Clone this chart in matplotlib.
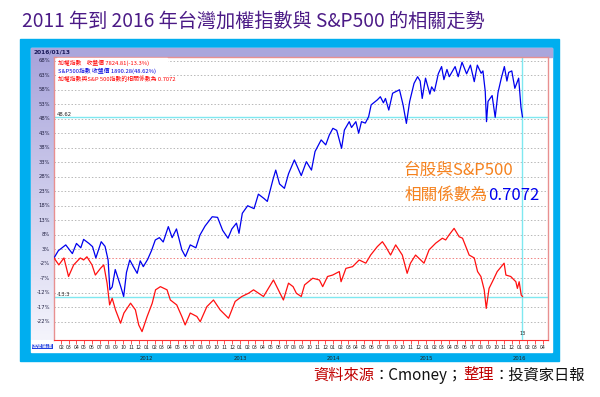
import numpy as np
import pandas as pd
import matplotlib
matplotlib.use("Agg")
import matplotlib.pyplot as plt
import matplotlib.dates as mdates
from matplotlib.patches import Rectangle

plt.rcParams['font.family'] = ['Noto Sans CJK TC', 'DejaVu Sans']

# S&P500, % change since 2011-01-03
sp_dates = ["2011-01-03", "2011-01-20", "2011-02-18", "2011-03-16", "2011-04-01", "2011-04-18",
            "2011-04-29", "2011-05-20", "2011-06-03", "2011-06-16", "2011-07-07", "2011-07-22",
            "2011-08-03", "2011-08-10", "2011-08-19", "2011-08-31", "2011-09-22", "2011-10-03",
            "2011-10-14", "2011-10-27", "2011-11-10", "2011-11-25", "2011-12-07", "2011-12-19",
            "2012-01-05", "2012-01-20", "2012-02-04", "2012-02-20", "2012-03-06", "2012-03-26",
            "2012-04-10", "2012-04-27", "2012-05-18", "2012-06-01", "2012-06-20", "2012-07-12",
            "2012-07-28", "2012-08-17", "2012-09-14", "2012-10-05", "2012-10-25", "2012-11-15",
            "2012-11-30", "2012-12-18", "2012-12-28", "2013-01-10", "2013-01-31", "2013-02-25",
            "2013-03-14", "2013-04-05", "2013-04-18", "2013-05-10", "2013-05-21", "2013-06-05",
            "2013-06-24", "2013-07-10", "2013-08-02", "2013-08-29", "2013-09-18", "2013-10-08",
            "2013-10-22", "2013-11-15", "2013-12-03", "2013-12-17", "2013-12-31", "2014-01-15",
            "2014-02-03", "2014-02-14", "2014-03-05", "2014-03-14", "2014-03-31", "2014-04-11",
            "2014-04-22", "2014-05-07", "2014-05-20", "2014-05-30", "2014-06-23", "2014-07-05",
            "2014-07-17", "2014-07-25", "2014-08-07", "2014-08-22", "2014-09-18", "2014-10-02",
            "2014-10-15", "2014-10-28", "2014-11-14", "2014-11-28", "2014-12-08", "2014-12-16",
            "2014-12-29", "2015-01-15", "2015-01-22", "2015-02-02", "2015-02-17", "2015-03-02",
            "2015-03-11", "2015-03-23", "2015-04-01", "2015-04-24", "2015-05-06", "2015-05-21",
            "2015-06-08", "2015-06-23", "2015-07-08", "2015-07-20", "2015-08-04", "2015-08-11",
            "2015-08-20", "2015-08-25", "2015-08-31", "2015-09-16", "2015-09-28", "2015-10-09",
            "2015-10-22", "2015-11-03", "2015-11-13", "2015-11-20", "2015-12-02", "2015-12-14",
            "2015-12-29", "2016-01-07", "2016-01-13"]
sp_pct = [0, 2.5, 4.5, 1.5, 5.0, 3.5,
          6.4, 5.0, 3.9, 0, 5.6, 4.0,
          -0.7, -11, -10, -4, -10, -13.3,
          -5, -0.7, -3, -5.3, -1, -3,
          -0.5, 2.5, 6.2, 7.0, 5.5, 10.8,
          7.0, 10.0, 2.8, 0.5, 4.5, 3.5,
          7.9, 11, 14.2, 14, 9.5, 6.8,
          10, 12, 8.5, 15.4, 18, 17,
          22, 20.5, 19.5, 27, 30.3, 25.5,
          24, 29, 33.8, 28.4, 33.2, 30.3,
          36.7, 40.7, 39, 42.4, 44.7, 44,
          37.8, 44.1, 47, 45, 47, 43,
          47, 46.5, 48.7, 52.8, 54.5, 55.6,
          53.5, 55, 51, 56.8, 58, 52.8,
          46.4, 54, 60.2, 62.5, 61, 55,
          62, 56.5, 59, 57.5, 63.5, 66,
          61.5, 65, 62.5, 66, 62.5, 67.5,
          63.5, 66.5, 60.8, 66.5, 63.7, 64.5,
          57.5, 47, 54, 56, 48.5, 57,
          62, 66, 61, 64, 64.5, 58.5,
          62, 52, 48.62]

# TAIEX, % change since 2011-01-03
tw_dates = ["2011-01-03", "2011-01-22", "2011-02-11", "2011-03-01", "2011-03-21", "2011-04-16",
            "2011-04-29", "2011-05-12", "2011-06-01", "2011-06-14", "2011-07-04", "2011-07-17",
            "2011-07-30", "2011-08-09", "2011-08-19", "2011-09-01", "2011-09-21", "2011-10-04",
            "2011-10-30", "2011-11-18", "2011-12-01", "2011-12-14", "2012-01-03", "2012-01-23",
            "2012-02-05", "2012-02-24", "2012-03-21", "2012-04-03", "2012-04-28", "2012-05-18",
            "2012-05-31", "2012-06-20", "2012-07-16", "2012-07-29", "2012-08-24", "2012-09-19",
            "2012-10-15", "2012-11-17", "2012-12-13", "2013-01-08", "2013-02-03", "2013-02-23",
            "2013-04-03", "2013-05-12", "2013-06-20", "2013-07-10", "2013-07-28", "2013-08-10",
            "2013-08-29", "2013-09-11", "2013-10-13", "2013-11-08", "2013-11-21", "2013-12-10",
            "2013-12-30", "2014-01-25", "2014-02-01", "2014-02-20", "2014-03-18", "2014-04-13",
            "2014-05-09", "2014-05-28", "2014-06-23", "2014-07-13", "2014-07-26", "2014-08-14",
            "2014-09-03", "2014-09-29", "2014-10-18", "2014-10-31", "2014-11-20", "2014-12-10",
            "2014-12-23", "2015-01-12", "2015-02-07", "2015-03-05", "2015-03-18", "2015-03-31",
            "2015-04-20", "2015-05-10", "2015-05-23", "2015-06-18", "2015-07-08", "2015-07-21",
            "2015-08-03", "2015-08-16", "2015-08-24", "2015-09-04", "2015-09-17", "2015-10-06",
            "2015-11-02", "2015-11-09", "2015-11-28", "2015-12-18", "2015-12-24", "2015-12-31",
            "2016-01-08", "2016-01-13"]
tw_pct = [0, -2.4, 0, -6.4, -2.4, 0,
          -0.7, 0.4, -2.4, -5.9, -3.6, -2.4,
          -8.7, -16.2, -13.9, -17.9, -22.5, -19,
          -15.6, -17.9, -23.1, -25.4, -20.2, -15.6,
          -11, -9.9, -11, -14.5, -16.2, -20.2,
          -23.1, -19, -20.2, -22, -16.8, -14.5,
          -17.9, -20.8, -15, -13.3, -12.2, -11,
          -13.3, -7.6, -14.5, -8.7, -9.9, -12.2,
          -13.3, -9.3, -7, -7.6, -9.9, -6.4,
          -5.9, -4.7, -8.2, -3.6, -3, -0.7,
          -1.8, 1, 3.9, 5.6, 3.9, 1,
          4.5, 1, -5.3, -1.8, 1, -0.7,
          -1.8, 2.8, 5.1, 6.8, 6.2, 7.9,
          10.2, 7.3, 6.8, 1, 0, -4.7,
          -6.4, -11, -17.4, -10.5, -8.2, -4.7,
          -1.8, -5.9, -6.4, -8.2, -10.5, -8.2,
          -12.8, -13.3]

y_ticks = list(range(-22, 69, 5))
sp_last = 48.62
tw_last = -13.3
cursor_date = "2016-01-13"

W, H = 600, 397
fig = plt.figure(figsize=(W / 100, H / 100), dpi=100)


def rect(x0, y0, x1, y1):
    # pixel box (top-left origin) -> figure fraction
    return [x0 / W, 1 - y1 / H, (x1 - x0) / W, (y1 - y0) / H]


# frame
fig.patches.append(Rectangle((20 / W, 1 - 361 / H), 539 / W, 322 / H,
                             transform=fig.transFigure, color='#00aeef', zorder=-3))
fig.patches.append(Rectangle((31 / W, 1 - 352 / H), 521 / W, 304 / H,
                             transform=fig.transFigure, color='white', zorder=-2))
fig.patches.append(Rectangle((31 / W, 1 - 57 / H), 521 / W, 9 / H,
                             transform=fig.transFigure, color='#aaa6dc', zorder=-1))
fig.text(33 / W, 1 - 52.5 / H, "2016/01/13", fontsize=4.2, color='#1a1a5a',
         va='center', ha='left', family='DejaVu Sans', weight='bold')

# left gradient panel
lax = fig.add_axes(rect(31, 57, 54, 340))
grad = np.linspace(0, 1, 100).reshape(-1, 1)
lax.imshow(grad, aspect='auto', cmap=matplotlib.colors.LinearSegmentedColormap.from_list(
    'lav', ['#aaa6dc', '#f4f4fc']), extent=[0, 1, 0, 1])
lax.axis('off')

ax = fig.add_axes(rect(54, 57, 548, 340))
ax.set_facecolor('white')
ax.set_zorder(1)

sp_x = pd.to_datetime(sp_dates)
tw_x = pd.to_datetime(tw_dates)

for v in y_ticks:
    ax.axhline(v, color='#b8b8b8', lw=0.7, ls=(0, (1.5, 2)), zorder=1)
ax.axhline(0, color='#f08080', lw=0.7, ls=(0, (1.5, 2)), zorder=1)
ax.axhline(sp_last, color='#7fe8f0', lw=1, zorder=2)
ax.axhline(tw_last, color='#7fe8f0', lw=1, zorder=2)
ax.axvline(pd.Timestamp(cursor_date), color='#7fe8f0', lw=1, zorder=2)

ax.plot(sp_x, sp_pct, color='#0000ee', lw=0.9, zorder=4)
ax.plot(tw_x, tw_pct, color='#ff1010', lw=0.9, zorder=4)

ax.set_ylim(-28.3, 69.3)
ax.set_xlim(pd.Timestamp("2011-01-03"), pd.Timestamp("2016-04-22"))

for s in ['left', 'right', 'top']:
    ax.spines[s].set_color('#e89090')
    ax.spines[s].set_linewidth(1)
ax.spines['bottom'].set_color('#ff3030')
ax.spines['bottom'].set_linewidth(0.8)

ax.set_yticks([])
ax.xaxis.set_major_locator(mdates.MonthLocator())
ax.xaxis.set_major_formatter(mdates.DateFormatter('%m'))
ax.tick_params(axis='x', colors='#ff3030', length=3, width=0.6, pad=0.5,
               labelsize=3.8, labelcolor='#222222')

# year labels under January
for yr in range(2012, 2017):
    ax.text(pd.Timestamp(f"{yr}-01-01"), -0.055, str(yr), transform=ax.get_xaxis_transform(),
            fontsize=3.8, ha='center', va='top', color='#222222', family='DejaVu Sans')

# y labels in the left panel
for v in y_ticks:
    ypix = 258 - v * 2.9
    fig.text(50 / W, 1 - ypix / H, f"{v}%", fontsize=3.8, ha='right', va='center',
             color='#222244', family='DejaVu Sans', zorder=3)

# end value labels
ax.text(0.006, sp_last, f"{sp_last}", transform=ax.get_yaxis_transform(), fontsize=3.8,
        va='bottom', ha='left', color='#222222', family='DejaVu Sans')
ax.text(0.006, tw_last, f"{tw_last}", transform=ax.get_yaxis_transform(), fontsize=3.8,
        va='bottom', ha='left', color='#222222', family='DejaVu Sans')
fig.text(523 / W, 1 - 335 / H, "13", fontsize=3.6, ha='center', color='#222222',
         family='DejaVu Sans', zorder=3)

# small legend box
fig.patches.append(Rectangle((57 / W, 1 - 83 / H), 110 / W, 25 / H,
                             transform=fig.transFigure, color='white', zorder=3))
fig.text(58 / W, 1 - 62.5 / H, "加權指數    收盤價 7824.81(-13.3%)", fontsize=4.2,
         color='#ff0000', va='center', zorder=5)
fig.text(58 / W, 1 - 70.5 / H, "S&P500指數 收盤價 1890.28(48.62%)", fontsize=4.2,
         color='#0000dd', va='center', zorder=5)
fig.text(58 / W, 1 - 78.5 / H, "加權指數與S&P 500指數的相關係數為 0.7072", fontsize=4.2,
         color='#ff0000', va='center', zorder=5)

# bottom-left selector tag
fig.text(32 / W, 1 - 346.5 / H, "區間選擇", fontsize=3.8, color='white', va='center',
         bbox=dict(facecolor='#2040e0', edgecolor='none', pad=0.3), zorder=3)

# annotation
fig.text(403 / W, 1 - 170 / H, "台股與S&P500", fontsize=12, color='#f5821f', va='center',
         zorder=5)
fig.text(488 / W, 1 - 195 / H, "相關係數為", fontsize=12, color='#f5821f', va='center',
         ha='right', zorder=5)
fig.text(488 / W, 1 - 195 / H, "0.7072", fontsize=12, color='#0000ee', va='center',
         ha='left', zorder=5)

# title
fig.text(22 / W, 1 - 21 / H, "2011 年到 2016 年台灣加權指數與 S&P500 的相關走勢",
         fontsize=13.8, color='#4b1a86', va='center', ha='left')

# source
parts = [("資料來源", '#c00000'), ("：Cmoney；", '#111111'), ("整理", '#c00000'),
         ("：投資家日報", '#111111')]
fig.canvas.draw()
xpos = 313
for txt, col in parts:
    t = fig.text(xpos / W, 1 - 375 / H, txt, fontsize=11, color=col, va='center', ha='left')
    bb = t.get_window_extent(renderer=fig.canvas.get_renderer())
    xpos += bb.width

fig.savefig("out.png", dpi=100)
